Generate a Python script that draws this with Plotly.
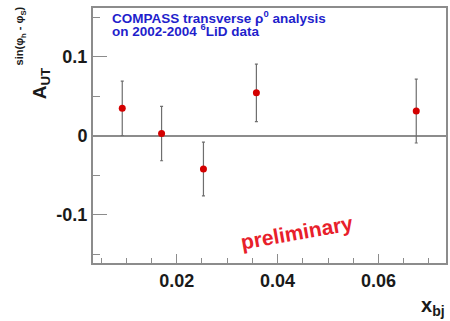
import plotly.graph_objects as go

# data
x_bj = [0.0092, 0.0170, 0.0253, 0.0358, 0.0675]
a_ut = [0.0350, 0.0030, -0.0420, 0.0545, 0.0315]
a_err = [0.0345, 0.0345, 0.0340, 0.0365, 0.0405]
x_ticks = [0.02, 0.04, 0.06]
x_ticklabels = ["<b>0.02</b>", "<b>0.04</b>", "<b>0.06</b>"]
y_ticks = [-0.1, 0, 0.1]
y_ticklabels = ["<b>-0.1</b>", "<b>0</b>", "<b>0.1</b>"]

W, H = 450, 321
L, R, T, B = 93, 2, 8, 58
PW, PH = W - L - R, H - T - B

def px(x):
    return (x - L) / PW

def py(y):
    return 1 - (y - T) / PH

FONT = "Liberation Sans, Arial, Helvetica, sans-serif"
AXC = "#8c8c8c"
INK = "#1a1a1a"

fig = go.Figure()
fig.add_trace(go.Scatter(
    x=x_bj, y=a_ut, mode="markers",
    marker=dict(color="#d40000", size=7),
    error_y=dict(type="data", array=a_err, visible=True, color="#6e6e6e",
                 thickness=1.2, width=1.5),
    showlegend=False,
))

fig.update_layout(
    width=W, height=H,
    margin=dict(l=L, r=R, t=T, b=B),
    paper_bgcolor="white", plot_bgcolor="white",
)
fig.update_xaxes(
    range=[0.0034, 0.0734], showgrid=False, zeroline=False,
    tickvals=x_ticks, ticktext=x_ticklabels,
    ticks="inside", ticklen=9, tickwidth=1.3, tickcolor=AXC,
    minor=dict(dtick=0.005, tick0=0, ticks="inside", ticklen=5, tickcolor=AXC, tickwidth=1.2),
    showline=True, linecolor=AXC, linewidth=2, mirror=True,
    tickfont=dict(family=FONT, size=18, color=INK),
)
fig.update_yaxes(
    range=[-0.161, 0.162], showgrid=False,
    zeroline=True, zerolinecolor=AXC, zerolinewidth=1.5,
    tickvals=y_ticks, ticktext=y_ticklabels,
    ticks="inside", ticklen=14, tickwidth=1.3, tickcolor=AXC,
    minor=dict(dtick=0.05, tick0=0, ticks="inside", ticklen=7, tickcolor=AXC, tickwidth=1.2),
    showline=True, linecolor=AXC, linewidth=2, mirror=True,
    tickfont=dict(family=FONT, size=18, color=INK),
)

BLUE = dict(family=FONT, size=13.5, color="#1f1fcc")
ann = []
ann.append(dict(text="<b>COMPASS transverse ρ<sup>0</sup> analysis</b>", x=px(110), y=py(17),
                xref="paper", yref="paper", xanchor="left", yanchor="middle", showarrow=False,
                font=BLUE))
ann.append(dict(text="<b>on 2002-2004 <sup>6</sup>LiD data</b>", x=px(110), y=py(30),
                xref="paper", yref="paper", xanchor="left", yanchor="middle", showarrow=False,
                font=BLUE))
ann.append(dict(text="<b>preliminary</b>", x=px(298), y=py(232), textangle=-10,
                xref="paper", yref="paper", xanchor="center", yanchor="middle", showarrow=False,
                font=dict(family=FONT, size=21, color="#e8202a")))
ann.append(dict(text="<b>A<sub>UT</sub></b>", x=px(41), y=py(84), textangle=-90,
                xref="paper", yref="paper", xanchor="center", yanchor="middle", showarrow=False,
                font=dict(family=FONT, size=19, color=INK)))
ann.append(dict(text="<b>sin(φ<sub>h</sub> - φ<sub>S</sub>)</b>", x=px(20), y=py(36), textangle=-90,
                xref="paper", yref="paper", xanchor="center", yanchor="middle", showarrow=False,
                font=dict(family=FONT, size=11, color=INK)))
ann.append(dict(text="<b>x<sub>bj</sub></b>", x=px(435), y=py(306),
                xref="paper", yref="paper", xanchor="center", yanchor="middle", showarrow=False,
                font=dict(family=FONT, size=20, color=INK)))
fig.update_layout(annotations=ann)

fig.write_html("out.html")
